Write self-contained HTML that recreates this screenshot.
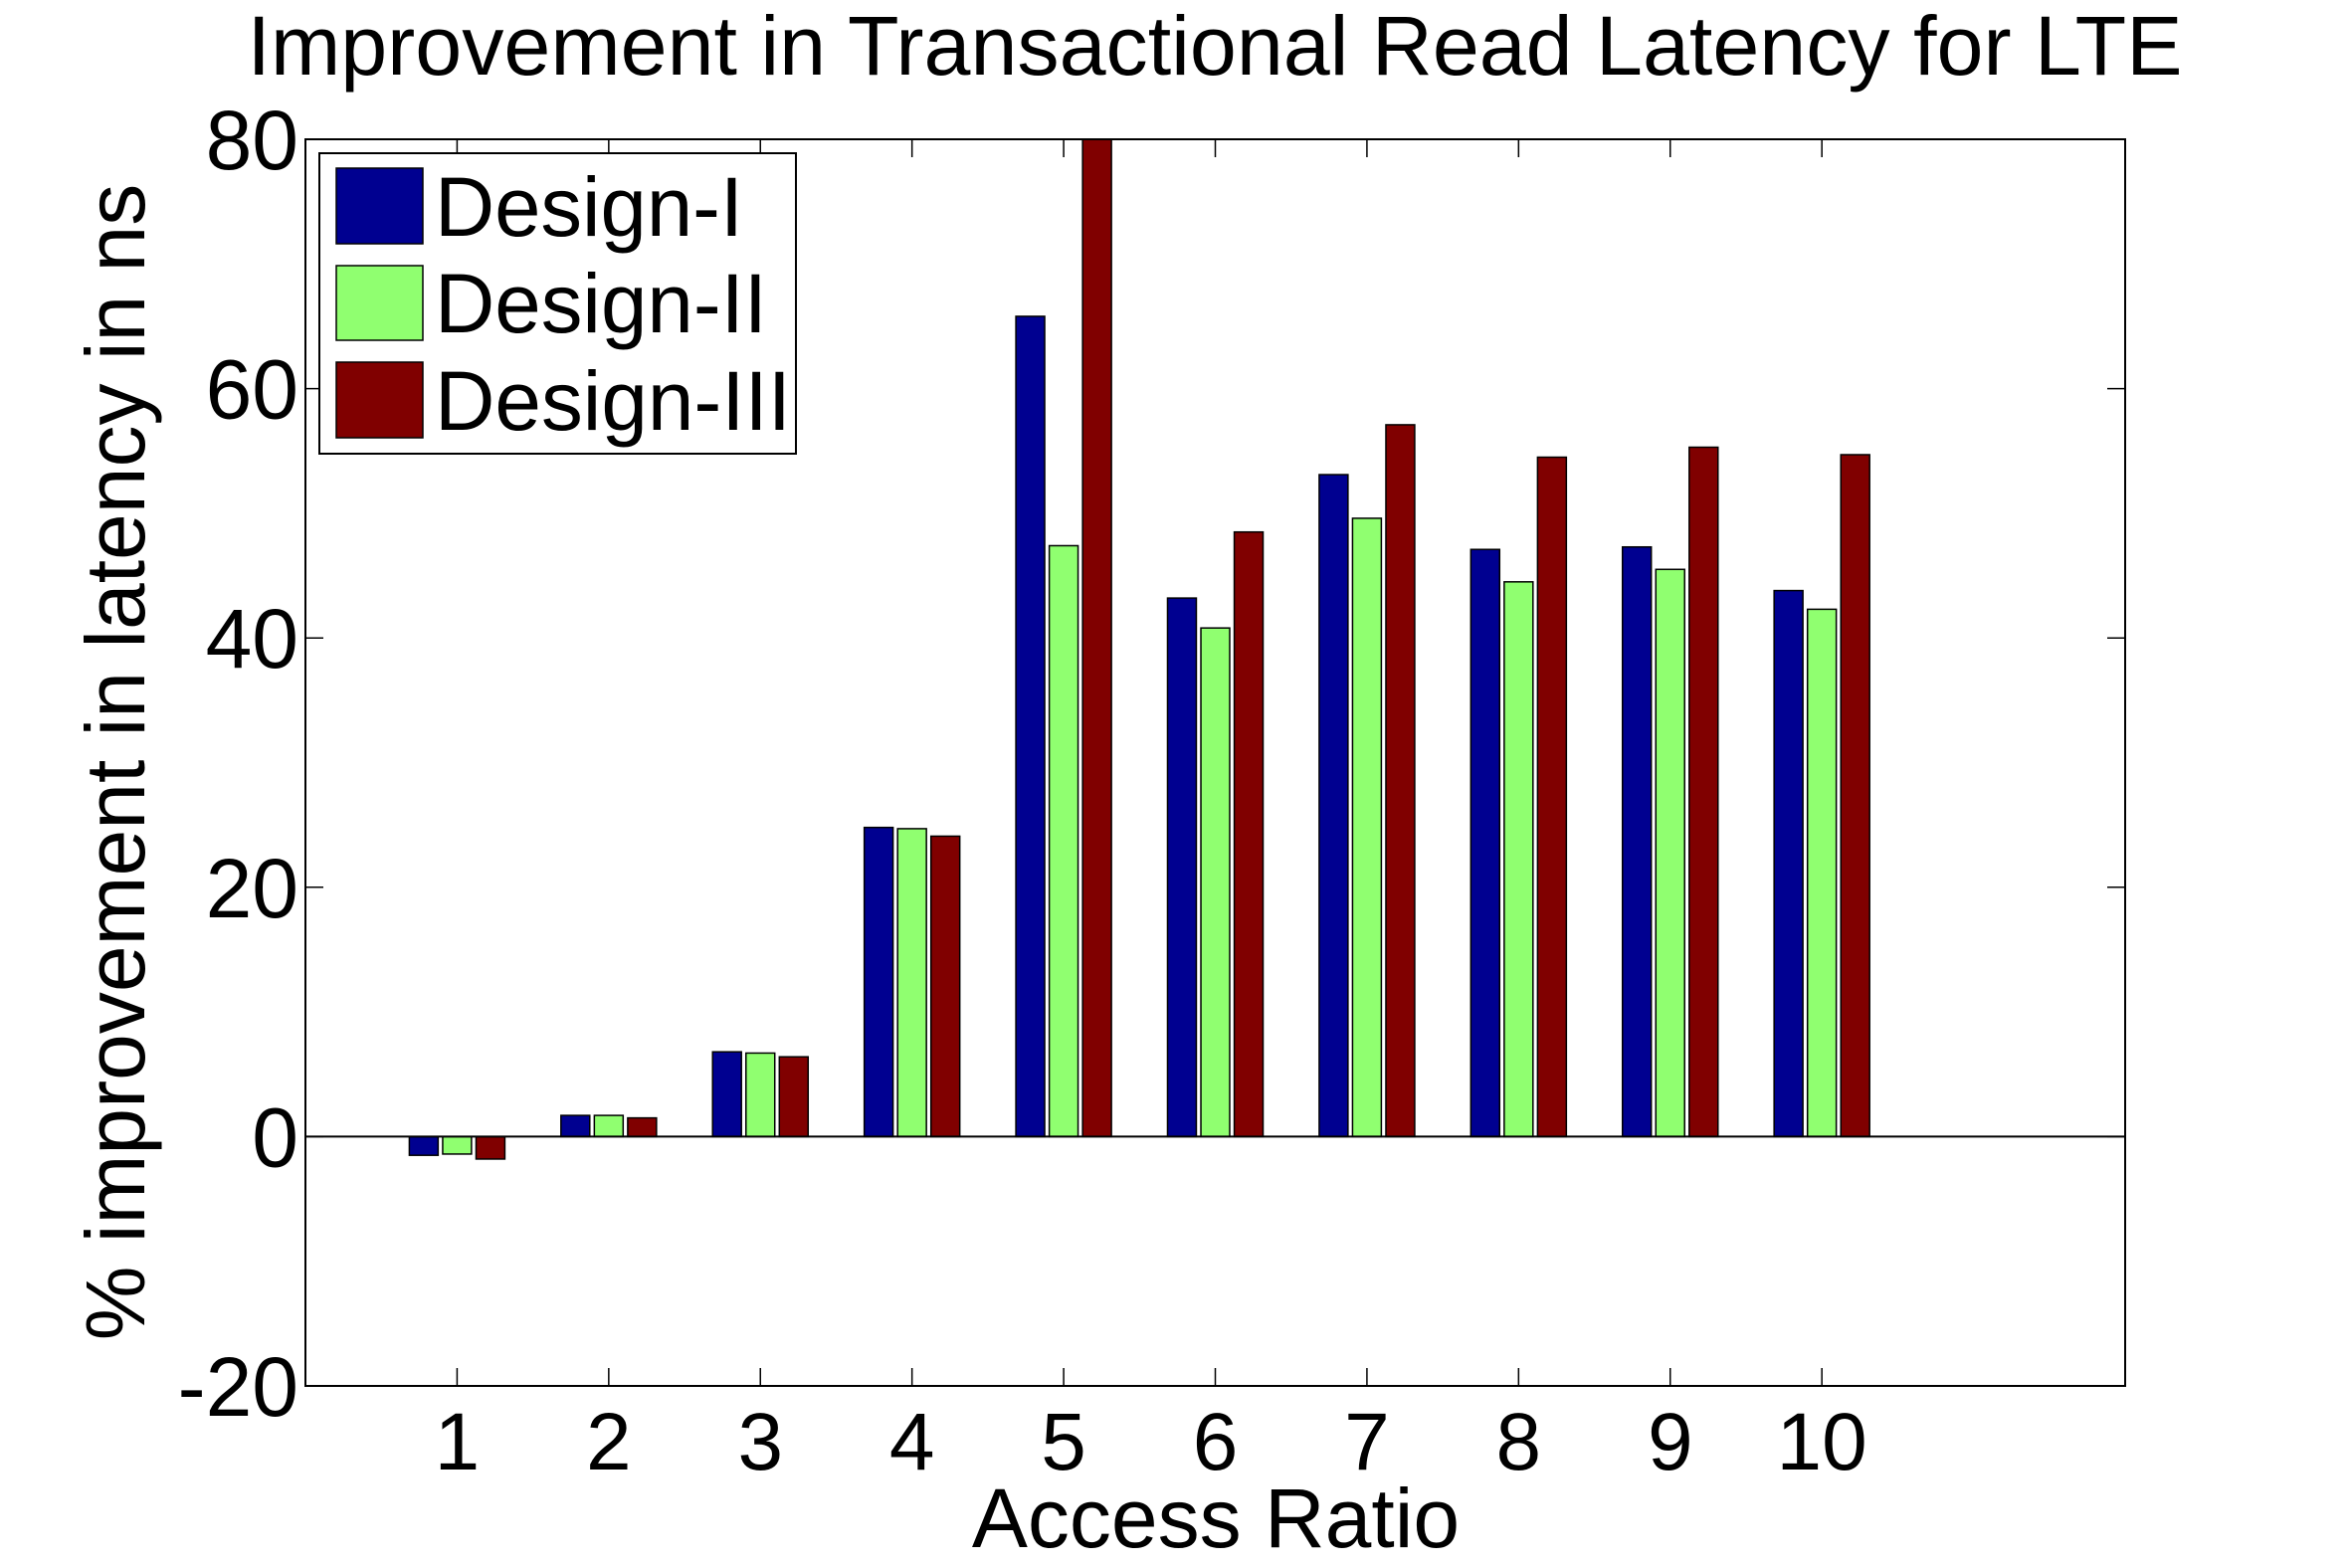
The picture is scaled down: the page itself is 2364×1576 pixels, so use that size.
<!DOCTYPE html>
<html><head><meta charset="utf-8"><style>html,body{margin:0;padding:0;background:#fff}svg{display:block}text{font-family:"Liberation Sans",sans-serif;fill:#000}</style></head>
<body>
<svg id="chart" width="2364" height="1576" viewBox="0 0 2364 1576" xmlns="http://www.w3.org/2000/svg">
<rect x="0" y="0" width="2364" height="1576" fill="#fff"/>
<text x="1221" y="75" font-size="84" text-anchor="middle" textLength="1945" lengthAdjust="spacingAndGlyphs">Improvement in Transactional Read Latency for LTE</text>
<defs><clipPath id="pc"><rect x="307" y="140" width="1829" height="1253"/></clipPath></defs>
<g id="bars" clip-path="url(#pc)"></g>
<g id="axes"></g>
<text transform="translate(145,766) rotate(-90)" font-size="84" text-anchor="middle">% improvement in latency in ns</text>
<text x="1222" y="1555" font-size="84" text-anchor="middle">Access Ratio</text>
<g>
<rect x="321" y="154" width="479" height="302" fill="#fff" stroke="#000" stroke-width="2"/>
<rect x="338" y="169" width="87" height="76" fill="#000090" stroke="#000" stroke-width="1.5"/>
<text x="437" y="237" font-size="84" textLength="310" lengthAdjust="spacingAndGlyphs">Design-I</text>
<rect x="338" y="267" width="87" height="75" fill="#90ff70" stroke="#000" stroke-width="1.5"/>
<text x="437" y="334" font-size="84" textLength="334" lengthAdjust="spacingAndGlyphs">Design-II</text>
<rect x="338" y="364" width="87" height="76" fill="#800000" stroke="#000" stroke-width="1.5"/>
<text x="437" y="432" font-size="84" textLength="358" lengthAdjust="spacingAndGlyphs">Design-III</text>
</g>
</svg>
<script>
const categories = ["1","2","3","4","5","6","7","8","9","10"];
const design1 = [-1.5, 1.7, 6.8, 24.8, 65.8, 43.2, 53.1, 47.1, 47.3, 43.8];
const design2 = [-1.4, 1.7, 6.7, 24.7, 47.4, 40.8, 49.6, 44.5, 45.5, 42.3];
const design3 = [-1.8, 1.5, 6.4, 24.1, 82, 48.5, 57.1, 54.5, 55.3, 54.7];
const yTicks = [-20, 0, 20, 40, 60, 80];
const NS = "http://www.w3.org/2000/svg";
const L = 307, R = 2136, T = 140, B = 1393;
const xMin = 0, xMax = 12, yMin = -20, yMax = 80;
function xs(v){ return L + (v - xMin) / (xMax - xMin) * (R - L); }
function ys(v){ return B - (v - yMin) / (yMax - yMin) * (B - T); }
function mk(tag, attrs, parent){ const e = document.createElementNS(NS, tag); for (const k in attrs) e.setAttribute(k, attrs[k]); parent.appendChild(e); return e; }
const bars = document.getElementById('bars');
const axes = document.getElementById('axes');
const series = [[design1, "#000090", "design-i", -0.22], [design2, "#90ff70", "design-ii", 0], [design3, "#800000", "design-iii", 0.22]];
const bw = 0.19;
series.forEach(s => {
  s[0].forEach((v, i) => {
    const cx = i + 1 + s[3];
    const y0 = ys(0), y1 = ys(v);
    const r = mk('rect', {x: xs(cx - bw/2), y: Math.min(y0, y1), width: xs(cx + bw/2) - xs(cx - bw/2), height: Math.abs(y1 - y0), fill: s[1], stroke: "#000", "stroke-width": 1.5}, bars);
    
    
  });
});
const zl = mk('line', {x1: L, x2: R, y1: ys(0), y2: ys(0), stroke: "#000", "stroke-width": 2}, axes);


const frame = mk('rect', {x: L, y: T, width: R - L, height: B - T, fill: "none", stroke: "#000", "stroke-width": 2}, axes);


yTicks.forEach(v => {
  const y = ys(v);
  mk('line', {x1: L, x2: L + 18, y1: y, y2: y, stroke: "#000", "stroke-width": 1.5}, axes);
  mk('line', {x1: R - 18, x2: R, y1: y, y2: y, stroke: "#000", "stroke-width": 1.5}, axes);
  const t = mk('text', {x: 300, y: y + 30, "font-size": 84, "text-anchor": "end"}, axes);
  t.textContent = v;
  
  
});
categories.forEach((c, i) => {
  const x = xs(i + 1);
  mk('line', {x1: x, x2: x, y1: B, y2: B - 18, stroke: "#000", "stroke-width": 1.5}, axes);
  mk('line', {x1: x, x2: x, y1: T, y2: T + 18, stroke: "#000", "stroke-width": 1.5}, axes);
  const t = mk('text', {x: x, y: 1477, "font-size": 82, "text-anchor": "middle"}, axes);
  t.textContent = c;
  
  
});
</script>
</body></html>
